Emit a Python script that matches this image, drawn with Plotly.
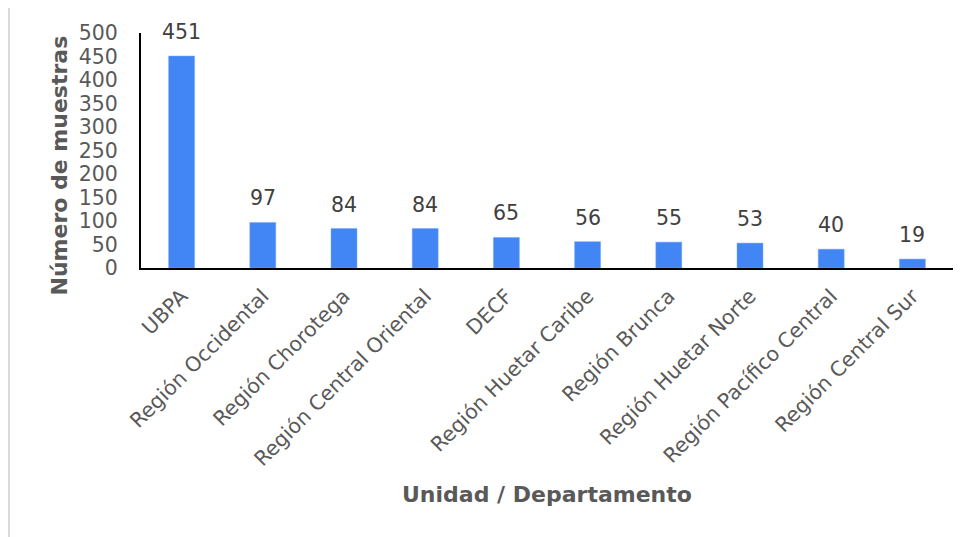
import plotly.graph_objects as go

categorias = ['UBPA', 'Región Occidental', 'Región Chorotega', 'Región Central Oriental',
              'DECF', 'Región Huetar Caribe', 'Región Brunca', 'Región Huetar Norte',
              'Región Pacífico Central', 'Región Central Sur']
muestras = [451, 97, 84, 84, 65, 56, 55, 53, 40, 19]
y_ticks = [0, 50, 100, 150, 200, 250, 300, 350, 400, 450, 500]

FONT = 'DejaVu Sans, Arial, sans-serif'

fig = go.Figure(go.Bar(
    x=categorias, y=muestras,
    marker=dict(color='#4285f4', line=dict(color='#7aa9f7', width=0.5)),
    hoverinfo='x+y',
))

# etiquetas de datos encima de cada barra
for cat, val in zip(categorias, muestras):
    fig.add_annotation(x=cat, y=val, text=str(val), showarrow=False,
                       yanchor='bottom', yshift=10,
                       font=dict(family=FONT, size=20.5, color='#404040'))

fig.add_annotation(text='<b>Número de muestras</b>', textangle=-90,
                   xref='paper', yref='paper', x=-0.0998, y=0.436,
                   xanchor='center', yanchor='middle',
                   showarrow=False, font=dict(family=FONT, size=22, color='#595959'))
fig.add_annotation(text='<b>Unidad / Departamento</b>',
                   xref='paper', yref='paper', x=0.5, y=-0.962,
                   xanchor='center', yanchor='middle',
                   showarrow=False, font=dict(family=FONT, size=22, color='#595959'))

# marco gris alrededor del gráfico
fig.add_shape(type='rect', xref='paper', yref='paper',
              x0=-0.1626, y0=-1.3, x1=1.1, y1=1.119,
              line=dict(color='#d9d9d9', width=2), layer='below')

# la página tiene 8 px de margen en el body: la figura se ajusta a eso
fig.update_layout(
    width=961, height=529,
    margin=dict(l=133, r=16, t=25, b=269),
    paper_bgcolor='white', plot_bgcolor='white',
    bargap=0.68, showlegend=False,
    font=dict(family=FONT, color='#595959'),
    xaxis=dict(showline=True, linecolor='black', linewidth=2, showgrid=False,
               tickangle=-45, tickfont=dict(size=20.5, color='#595959'),
               ticks='outside', ticklen=6, tickcolor='rgba(0,0,0,0)'),
    yaxis=dict(range=[0, 500], tickvals=y_ticks, showline=True, linecolor='black',
               linewidth=2, showgrid=False, zeroline=False, ticks='',
               ticklabelstandoff=17, tickfont=dict(size=20.5, color='#595959')),
)

fig.write_html('out.html')
